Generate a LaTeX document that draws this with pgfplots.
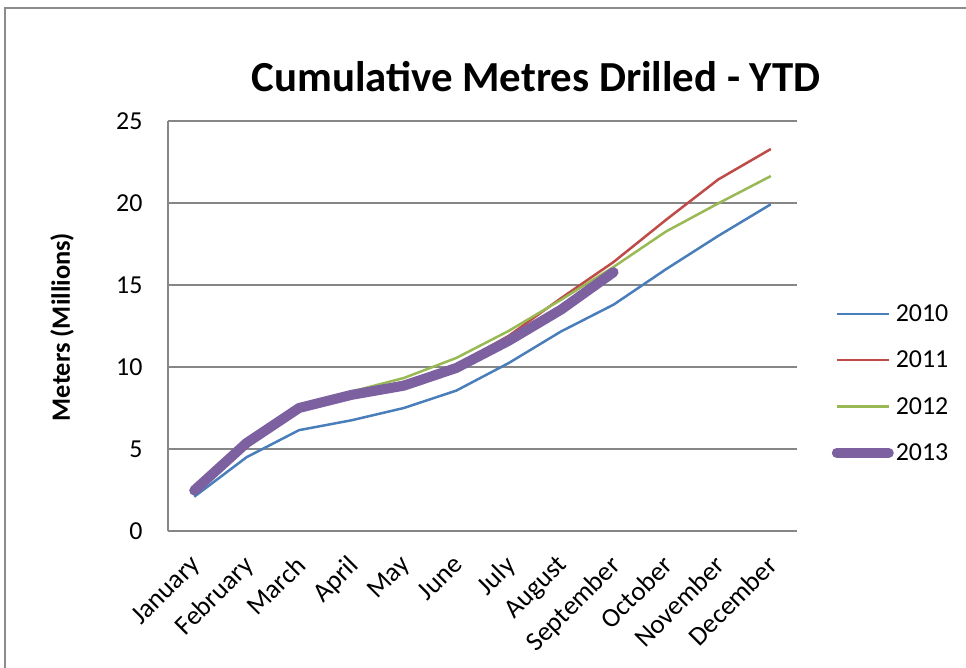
\documentclass[border=0pt]{standalone}
\usepackage{fontspec}
\setmainfont{Carlito}
\usepackage{pgfplots}
\pgfplotsset{compat=1.18}
\definecolor{c10}{HTML}{4A7EBB}
\definecolor{c11}{HTML}{BE4B48}
\definecolor{c12}{HTML}{98B954}
\definecolor{c13}{HTML}{7D60A0}
\definecolor{gridgray}{HTML}{868686}
\definecolor{framegray}{HTML}{8C8C8C}
\begin{document}
\begin{tikzpicture}[x=1bp,y=1bp]
\path[use as bounding box] (0,0) rectangle (966,668);
\draw[framegray, line width=2bp] (5,0) -- (5,660) -- (966,660);
\node[font=\fontsize{43}{48}\selectfont\bfseries] at (536,591) {Cumulative Metres Drilled - YTD};
\node[font=\fontsize{26.5}{30}\selectfont\bfseries, rotate=90] at (62,341) {Meters (Millions)};
\begin{axis}[
  at={(168bp,137bp)}, anchor=south west,
  scale only axis, width=629bp, height=410bp,
  xmin=-0.5, xmax=11.5, ymin=0, ymax=25,
  ytick={0,5,10,15,20,25},
  xtick={0,...,11},
  xticklabels={January,February,March,April,May,June,July,August,September,October,November,December},
  axis lines=left,
  axis line style={gridgray, line width=2bp, -},
  major tick length=0pt,
  ymajorgrids, grid style={gridgray, line width=2bp},
  /pgf/number format/assume math mode=true,
  yticklabel style={font=\fontsize{26}{30}\selectfont, anchor=east, xshift=-22bp},
  xticklabel style={font=\fontsize{27}{30}\selectfont, anchor=north east, xshift=-5bp, yshift=-18bp, rotate=45},
  legend style={at={(1.055,0.36)}, anchor=west, draw=none, fill=none,
    font=\fontsize{26}{30}\selectfont, row sep=24bp, inner sep=0pt},
  legend cell align=left,
  legend image code/.code={\draw[#1] (0bp,0bp) -- (52bp,0bp);},
  clip=false,
]
\addplot[c10, line width=2.5bp] coordinates {(0,2.09) (1,4.5) (2,6.15) (3,6.75) (4,7.5) (5,8.56) (6,10.24) (7,12.17) (8,13.8) (9,15.96) (10,18.0) (11,19.92)};
\addlegendentry{2010}
\addplot[c11, line width=2.5bp] coordinates {(0,2.4) (1,5.15) (2,7.55) (3,8.4) (4,9.1) (5,10.1) (6,11.9) (7,14.2) (8,16.4) (9,18.97) (10,21.44) (11,23.29)};
\addlegendentry{2011}
\addplot[c12, line width=2.5bp] coordinates {(0,2.45) (1,5.25) (2,7.7) (3,8.5) (4,9.33) (5,10.55) (6,12.2) (7,14.1) (8,16.1) (9,18.26) (10,19.98) (11,21.64)};
\addlegendentry{2012}
\addplot[c13, line width=10bp, line cap=round, line join=round] coordinates {(0,2.47) (1,5.37) (2,7.5) (3,8.3) (4,8.86) (5,9.94) (6,11.6) (7,13.5) (8,15.78)};
\addlegendentry{2013}
\end{axis}
\end{tikzpicture}
\end{document}
